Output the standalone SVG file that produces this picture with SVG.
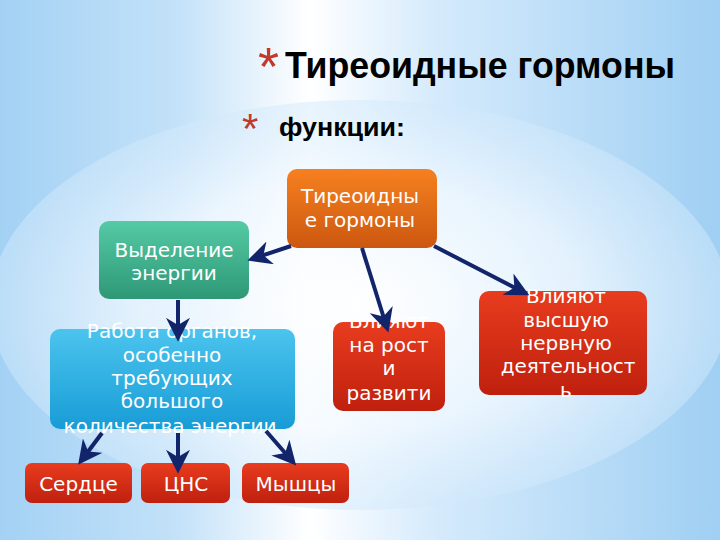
<svg xmlns="http://www.w3.org/2000/svg" width="720" height="540" viewBox="0 0 720 540">
<defs>
<linearGradient id="bg" x1="0" y1="0" x2="1" y2="0">
<stop offset="0" stop-color="#a3d1f4"/>
<stop offset="0.25" stop-color="#c4e2f9"/>
<stop offset="0.43" stop-color="#ffffff"/>
<stop offset="0.6" stop-color="#d6ebfc"/>
<stop offset="1" stop-color="#9fcff3"/>
</linearGradient>
<radialGradient id="glow" cx="0.5" cy="0.5" r="0.5">
<stop offset="0" stop-color="#ffffff" stop-opacity="0.95"/>
<stop offset="0.6" stop-color="#f4faff" stop-opacity="0.7"/>
<stop offset="1" stop-color="#d2e9fb" stop-opacity="0.5"/>
</radialGradient>
<linearGradient id="gOrange" x1="0" y1="0" x2="0" y2="1">
<stop offset="0" stop-color="#f68020"/>
<stop offset="1" stop-color="#cc5810"/>
</linearGradient>
<linearGradient id="gGreen" x1="0" y1="0" x2="0" y2="1">
<stop offset="0" stop-color="#55caa4"/>
<stop offset="1" stop-color="#2e9876"/>
</linearGradient>
<linearGradient id="gBlue" x1="0" y1="0" x2="0" y2="1">
<stop offset="0" stop-color="#4bc4ee"/>
<stop offset="1" stop-color="#189cd6"/>
</linearGradient>
<linearGradient id="gRed" x1="0" y1="0" x2="0" y2="1">
<stop offset="0" stop-color="#e83c1e"/>
<stop offset="1" stop-color="#bf200e"/>
</linearGradient>
<marker id="arr" viewBox="0 0 10 10" refX="8" refY="5" markerWidth="6" markerHeight="6" orient="auto" markerUnits="strokeWidth">
<path d="M0,0 L10,5 L0,10 L3,5 z" fill="#13256a"/>
</marker>
</defs>
<style>
.node text{font-family:"DejaVu Sans",sans-serif;font-size:20px;fill:#ffffff;text-anchor:middle}
.conn line{stroke:#13256a;stroke-width:4;marker-end:url(#arr)}
.title{font-family:"Liberation Sans",Arial,sans-serif;font-weight:bold;fill:#000000}
.star{font-family:"Liberation Sans",Arial,sans-serif;fill:#c0392b}
</style>
<rect x="0" y="0" width="720" height="540" fill="url(#bg)"/>
<ellipse cx="360" cy="305" rx="370" ry="205" fill="url(#glow)"/>

<text class="star" x="258" y="85" font-size="54">*</text>
<text class="title" x="285" y="78" font-size="36" textLength="390" lengthAdjust="spacingAndGlyphs">Тиреоидные гормоны</text>
<text class="star" x="242" y="143" font-size="42">*</text>
<text class="title" x="279" y="136" font-size="25" textLength="126" lengthAdjust="spacingAndGlyphs">функции:</text>

<g id="n-thyroid" class="node">
<rect x="287" y="169" width="150" height="79" rx="10" fill="url(#gOrange)"/>
<text x="360" y="203">Тиреоидны</text>
<text x="360" y="227">е гормоны</text>
</g>
<g id="n-energy" class="node">
<rect x="99" y="221" width="150" height="78" rx="10" fill="url(#gGreen)"/>
<text x="174" y="257">Выделение</text>
<text x="174" y="280">энергии</text>
</g>
<g id="n-organs" class="node">
<rect x="50" y="329" width="245" height="100" rx="10" fill="url(#gBlue)"/>
<text x="172" y="338">Работа органов,</text>
<text x="172" y="362">особенно</text>
<text x="172" y="385">требующих</text>
<text x="172" y="408">большого</text>
<text x="170" y="433">количества энергии</text>
</g>
<g id="n-growth" class="node">
<rect x="333" y="322" width="112" height="89" rx="10" fill="url(#gRed)"/>
<text x="389" y="328">Влияют</text>
<text x="389" y="352">на рост</text>
<text x="389" y="375">и</text>
<text x="389" y="400">развити</text>
</g>
<g id="n-nervous" class="node">
<rect x="479" y="291" width="168" height="104" rx="10" fill="url(#gRed)"/>
<text x="566" y="303">Влияют</text>
<text x="566" y="327">высшую</text>
<text x="566" y="350">нервную</text>
<text x="568" y="373">деятельност</text>
<text x="566" y="397">ь</text>
</g>
<g id="n-heart" class="node">
<rect x="25" y="463" width="107" height="40" rx="7" fill="url(#gRed)"/>
<text x="78.5" y="491">Сердце</text>
</g>
<g id="n-cns" class="node">
<rect x="141" y="463" width="89" height="40" rx="7" fill="url(#gRed)"/>
<text x="186" y="491">ЦНС</text>
</g>
<g id="n-muscle" class="node">
<rect x="242" y="463" width="107" height="40" rx="7" fill="url(#gRed)"/>
<text x="296" y="491">Мышцы</text>
</g>

<g id="connectors" class="conn">
<line x1="291" y1="246" x2="252" y2="259"/>
<line x1="362" y1="248" x2="387" y2="328"/>
<line x1="434" y1="246" x2="525" y2="293"/>
<line x1="178" y1="300" x2="178" y2="337"/>
<line x1="102" y1="433" x2="81" y2="461"/>
<line x1="178" y1="433" x2="178" y2="469"/>
<line x1="266" y1="431" x2="293" y2="462"/>
</g>
</svg>
